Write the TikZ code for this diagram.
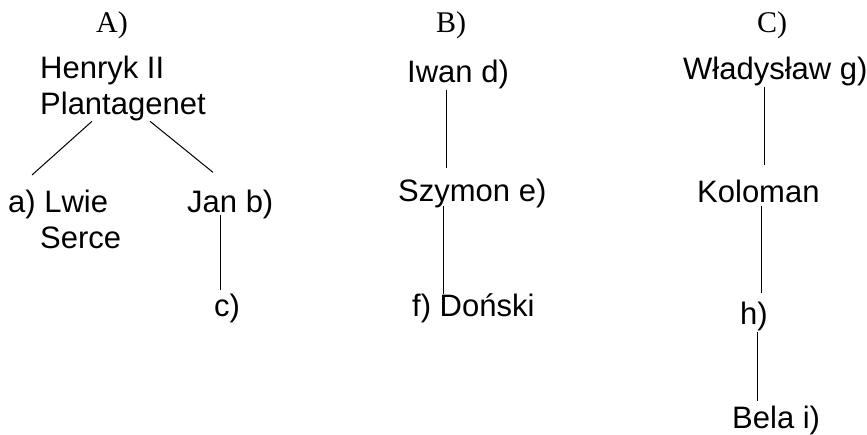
\documentclass[tikz,border=0pt]{standalone}
\usepackage{fontspec}
\setmainfont{Liberation Serif}
\setsansfont{Liberation Sans}
\usepackage{tikz}
\tikzset{%%
  person/.style={inner sep=0pt, font=\sffamily\fontsize{31}{36}\selectfont, align=left},
  panel/.style={inner sep=0pt, font=\rmfamily\fontsize{30}{36}\selectfont},
  link/.style={black, line width=1pt}
  }
\begin{document}
\begin{tikzpicture}[x=1pt, y=-1pt]
  \useasboundingbox[fill=white] (0,0) rectangle (867,435);
  \node[panel, anchor=base] (pa) at (112,33) {A)};
  \node[panel, anchor=base] (pb) at (451,33) {B)};
  \node[panel, anchor=base] (pc) at (772,33) {C)};
  % A)
  \node[person, anchor=north west] (henryk) at (40,56) {Henryk II\\Plantagenet};
  \node[person, anchor=north west] (lwie) at (8,190) {a) Lwie\\\hspace*{32pt}Serce};
  \node[person, anchor=base west] (jan) at (187,213) {Jan b)};
  \node[person, anchor=base west] (cc) at (214,317) {c)};
  \draw[link] ([xshift=52pt]henryk.south west) -- ([xshift=24pt,yshift=15pt]lwie.north west);
  \draw[link] ([xshift=110pt]henryk.south west) -- ([xshift=26pt,yshift=18pt]jan.north west);
  \draw[link] ([xshift=33pt,yshift=5pt]jan.south west) -- ([xshift=6pt,yshift=4pt]cc.north west);
  % B)
  \node[person, anchor=base west] (iwan) at (407,83) {Iwan d)};
  \node[person, anchor=base west] (szymon) at (398,202) {Szymon e)};
  \node[person, anchor=base west] (donski) at (412,317) {f) Doński};
  \draw[link] ([xshift=39pt]iwan.south west) -- ([xshift=48pt,yshift=11pt]szymon.north west);
  \draw[link] ([xshift=45pt,yshift=3pt]szymon.south west) -- ([xshift=31pt]donski.north west);
  % C)
  \node[person, anchor=base west] (wlad) at (683,80) {Władysław g)};
  \node[person, anchor=base west] (koloman) at (697,203) {Koloman};
  \node[person, anchor=base west] (hh) at (740,325) {h)};
  \node[person, anchor=base west] (bela) at (732,428) {Bela i)};
  \draw[link] ([xshift=81pt]wlad.south west) -- ([xshift=67pt,yshift=15pt]koloman.north west);
  \draw[link] ([xshift=64pt,yshift=-2pt]koloman.south west) -- ([xshift=21pt,yshift=9pt]hh.north west);
  \draw[link] ([xshift=17pt]hh.south west) -- ([xshift=25pt,yshift=4pt]bela.north west);
\end{tikzpicture}
\end{document}
